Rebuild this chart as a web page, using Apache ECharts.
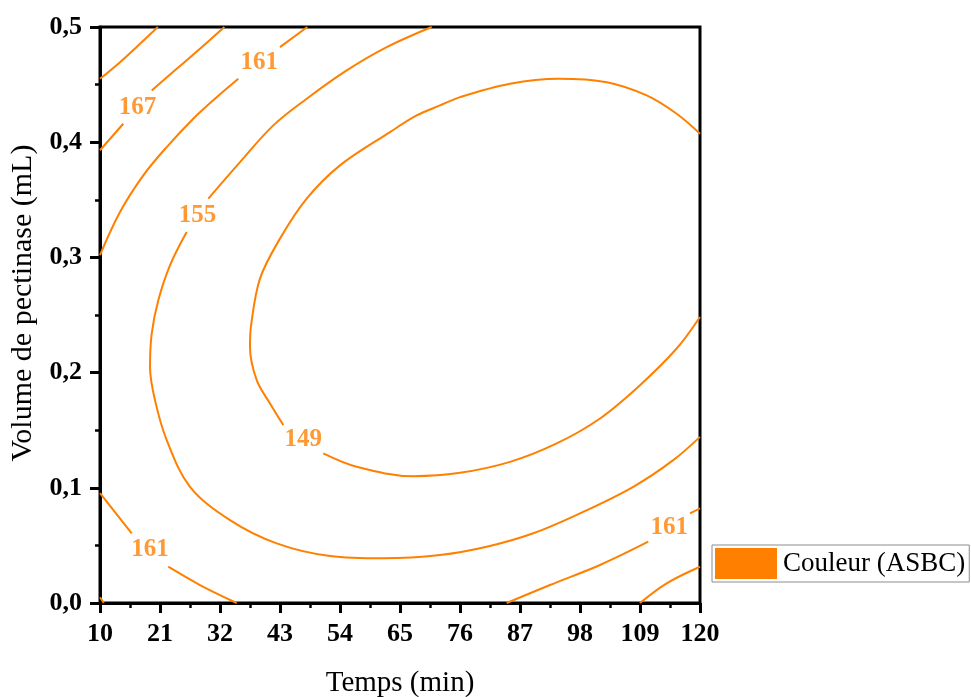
<!DOCTYPE html>
<html>
<head>
<meta charset="utf-8">
<title>Couleur (ASBC)</title>
<script src="https://cdn.jsdelivr.net/npm/echarts@6/dist/echarts.min.js"></script>
<style>
  html, body { margin: 0; padding: 0; background: #fff; }
  #chart { width: 971px; height: 697px; }
</style>
</head>
<body>
<div id="chart"></div>
<script>
// Axis ticks
const timeTicks = [10, 21, 32, 43, 54, 65, 76, 87, 98, 109, 120];
const volumeTicks = [0.0, 0.1, 0.2, 0.3, 0.4, 0.5];

// Contour paths as [temps (min), volume (mL)]; null marks the break where the level label sits
const c173 = [[10, 0.455], [13.67, 0.4695], [17.33, 0.4854], [20.6, 0.5]];
const c167a = [[10, 0.393], [14.27, 0.416], null, [19.48, 0.4449], [24.06, 0.4637], [28.33, 0.4811], [32.8, 0.5]];
const c167b = [[10, 0.005], [10.7, 0]];
const c167c = [[109, 0], [113.89, 0.0171], [120, 0.0315]];
const c161a = [[10, 0.302], [13.67, 0.3394], [17.94, 0.3712], [22.23, 0.3958], [27.1, 0.4204], [31.4, 0.4391], [35.36, 0.4551], null, [43.0, 0.4825], [48.0, 0.5]];
const c161b = [[10, 0.0954], [15.81, 0.0605], null, [22.52, 0.0315], [28.33, 0.0156], [35.06, 0]];
const c161c = [[84.56, 0], [92.5, 0.0156], [101.67, 0.033], [110.52, 0.0532], null, [118.17, 0.0778], [120, 0.0821]];
const c155 = [[70.8, 0.5], [62.56, 0.4825], [55.23, 0.4623], [47.89, 0.4377], [41.77, 0.4146], [35.67, 0.3827], [29.86, 0.351], null,
  [25.89, 0.322], [22.83, 0.2931], [20.69, 0.2628], [19.48, 0.2339], [19.17, 0.2049], [20.08, 0.1761], [22.23, 0.1414],
  [26.5, 0.1009], [33.83, 0.072], [42.39, 0.0518], [52.17, 0.0408], [61.94, 0.0388], [72.33, 0.0416], [80.89, 0.0488],
  [89.44, 0.0605], [98, 0.0778], [107.77, 0.1009], [115.1, 0.124], [120, 0.1442]];
const c149 = [[120, 0.4074], [115.72, 0.4247], [110.23, 0.4406], [102.9, 0.4521], [94.02, 0.4551], [85.17, 0.4507],
  [76, 0.4391], [72.33, 0.4319], [68.06, 0.4232], [63.17, 0.4088], [54, 0.3799], [47.89, 0.351], [43, 0.3163],
  [39.33, 0.2816], [37.7, 0.2411], [37.5, 0.2223], [38.73, 0.1934], [41.17, 0.1732], [43.61, 0.1544], null,
  [50.94, 0.1298], [57.06, 0.1182], [67.44, 0.1101], [76, 0.113], [85.17, 0.1225], [93.72, 0.1385], [101.67, 0.1602],
  [109, 0.1891], [115.72, 0.2209], [120, 0.2483]];

const contours = [
  { level: 173, path: c173 },
  { level: 167, path: c167a },
  { level: 167, path: c167b },
  { level: 167, path: c167c },
  { level: 161, path: c161a },
  { level: 161, path: c161b },
  { level: 161, path: c161c },
  { level: 155, path: c155 },
  { level: 149, path: c149 }
];

const SERIES_NAME = 'Couleur (ASBC)';
const ORANGE = '#ff8000';
const SERIF = '"Liberation Serif", "Times New Roman", serif';

// A level label sits in the middle of the break of its path
const labelPoints = [];
contours.forEach(function (c) {
  const i = c.path.indexOf(null);
  if (i > 0) {
    const a = c.path[i - 1], b = c.path[i + 1];
    labelPoints.push([(a[0] + b[0]) / 2, (a[1] + b[1]) / 2, c.level]);
  }
});

const lineSeries = contours.map(function (c) {
  return {
    name: SERIES_NAME,
    type: 'line',
    data: c.path.map(function (p) { return p === null ? '-' : p; }),
    connectNulls: false,
    smooth: 0.35,
    showSymbol: false,
    symbol: 'none',
    lineStyle: { color: ORANGE, width: 2 },
    itemStyle: { color: ORANGE },
    silent: true,
    z: 2
  };
});

const chart = echarts.init(document.getElementById('chart'), null, { renderer: 'canvas' });
chart.setOption({
  animation: false,
  backgroundColor: '#fff',
  grid: {
    left: 100, right: 271, top: 27, bottom: 94,
    containLabel: false,
    outerBoundsMode: 'none',
    show: true, borderColor: '#000', borderWidth: 3, backgroundColor: 'transparent'
  },
  legend: {
    data: [{ name: SERIES_NAME, icon: 'rect', itemStyle: { color: ORANGE } }],
    left: 712, top: 545,
    orient: 'vertical',
    itemWidth: 62, itemHeight: 31, itemGap: 0,
    padding: [3, 4, 3, 3],
    borderColor: '#8c8c8c', borderWidth: 1,
    selectedMode: false,
    textStyle: { fontFamily: SERIF, fontSize: 27, color: '#000', padding: [0, 0, 0, 1] }
  },
  xAxis: {
    type: 'value',
    min: timeTicks[0], max: timeTicks[timeTicks.length - 1],
    interval: timeTicks[1] - timeTicks[0],
    name: 'Temps (min)', nameLocation: 'middle', nameGap: 66,
    nameTextStyle: { fontFamily: SERIF, fontSize: 29, color: '#000' },
    axisLine: { onZero: false, lineStyle: { color: '#000', width: 3 } },
    axisTick: { show: true, inside: false, length: 10, lineStyle: { color: '#000', width: 3 } },
    minorTick: { show: true, splitNumber: 2, length: 5, lineStyle: { color: '#000', width: 2.5 } },
    splitLine: { show: false },
    axisLabel: {
      margin: 18, fontFamily: SERIF, fontWeight: 'bold', fontSize: 26, color: '#000',
      showMinLabel: true, showMaxLabel: true
    }
  },
  yAxis: {
    type: 'value',
    min: volumeTicks[0], max: volumeTicks[volumeTicks.length - 1],
    interval: 0.1,
    name: 'Volume de pectinase (mL)', nameLocation: 'middle', nameGap: 58,
    nameTextStyle: { fontFamily: SERIF, fontSize: 30, color: '#000', padding: [0, 0, 0, 24] },
    axisLine: { onZero: false, lineStyle: { color: '#000', width: 3 } },
    axisTick: { show: true, inside: false, length: 10, lineStyle: { color: '#000', width: 3 } },
    minorTick: { show: true, splitNumber: 2, length: 5, lineStyle: { color: '#000', width: 2.5 } },
    splitLine: { show: false },
    axisLabel: {
      margin: 18, fontFamily: SERIF, fontWeight: 'bold', fontSize: 26, color: '#000',
      formatter: function (v) { return v.toFixed(1).replace('.', ','); }
    }
  },
  series: lineSeries.concat([{
    name: 'niveaux',
    type: 'scatter',
    data: labelPoints,
    symbolSize: 0,
    silent: true,
    z: 3,
    label: {
      show: true,
      position: 'inside',
      formatter: function (p) { return String(p.value[2]); },
      fontFamily: SERIF, fontWeight: 'bold', fontSize: 25, color: ORANGE
    }
  }])
});
</script>
</body>
</html>
